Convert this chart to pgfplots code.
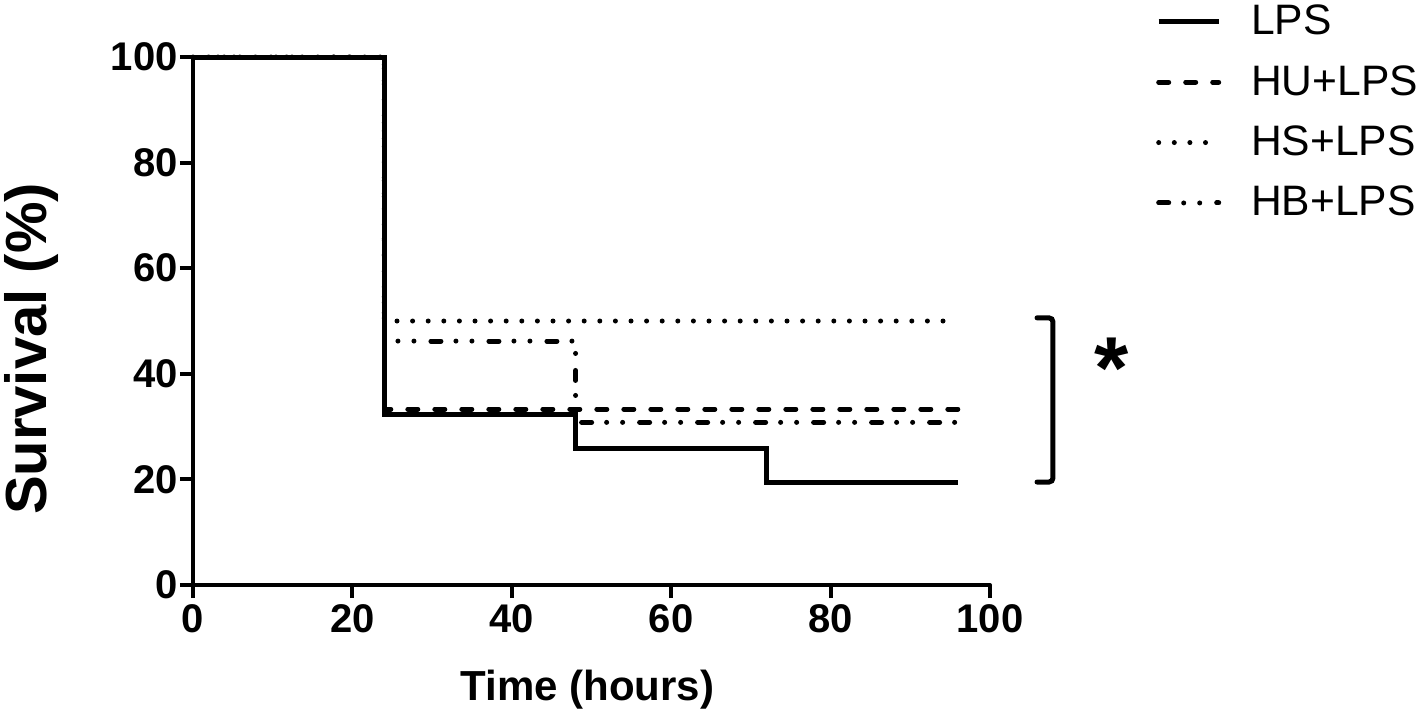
\documentclass[border=0pt]{standalone}
\usepackage{fontspec}
\setmainfont{Liberation Sans}
\usepackage{pgfplots}
\pgfplotsset{compat=1.18}
\begin{document}
\begin{tikzpicture}
\useasboundingbox (0,0) rectangle (709pt,357pt);
\begin{axis}[
  at={(96.5pt,64.5pt)}, anchor=south west,
  scale only axis, width=398.5pt, height=264pt,
  xmin=0, xmax=100, ymin=0, ymax=100,
  axis lines=left,
  axis line style={-, line width=2pt, line cap=round},
  xtick={0,20,...,100}, ytick={0,20,...,100},
  tick align=outside, major tick length=6.5pt,
  tick style={line width=2pt, black},
  /pgf/number format/assume math mode=true,
  tick label style={font=\bfseries\fontsize{20}{20}\selectfont},
  yticklabel style={inner xsep=1pt},
  xticklabel style={inner ysep=3pt},
  xlabel={Time (hours)},
  ylabel={Survival (\%)},
  xlabel style={font=\bfseries\fontsize{21}{21}\selectfont, at={(axis description cs:0.495,0)}, anchor=base, yshift=-57.5pt},
  ylabel style={font=\bfseries\fontsize{29}{29}\selectfont, at={(axis description cs:-0.2025,0.447)}, anchor=center},
  clip=false,
  legend style={draw=none, fill=none, at={(axis description cs:1.2005,1.1035)}, anchor=north west,
    font=\fontsize{21.3}{25}\selectfont, row sep=12.2pt, column sep=15pt,
    nodes={inner sep=0pt, text height=14pt, text depth=4pt}},
  legend cell align=left,
  legend image code/.code={\draw[#1] (0pt,1.5pt) -- (30pt,1.5pt);},
  every axis plot/.append style={line width=2.5pt, black, const plot, line cap=round},
]
\addplot[solid, line cap=butt] coordinates {(0,100) (24,32.3) (48,25.8) (72,19.4) (96,19.4)};
\addlegendentry{LPS}
\addplot[dash pattern=on 5pt off 8.5pt] coordinates {(0,100) (24,33.3) (96,33.3)};
\addlegendentry{HU+LPS}
\addplot[dash pattern=on 0pt off 7.8pt] coordinates {(0,100) (24,50) (96,50)};
\addlegendentry{HS+LPS}
\addplot[dash pattern=on 5pt off 7.5pt on 0pt off 8pt on 0pt off 8.5pt] coordinates {(0,100) (24,46.2) (48,30.8) (96,30.8)};
\addlegendentry{HB+LPS}
\draw[line width=2.5pt, line cap=round, rounded corners=2pt] (axis cs:105.9,50.6) -- (axis cs:107.9,50.6) -- (axis cs:107.9,19.5) -- (axis cs:105.9,19.5);
\node[anchor=north, inner sep=0pt, font=\bfseries\fontsize{44}{44}\selectfont] at (axis cs:115.2,46.8) {*};
\end{axis}
\end{tikzpicture}
\end{document}
